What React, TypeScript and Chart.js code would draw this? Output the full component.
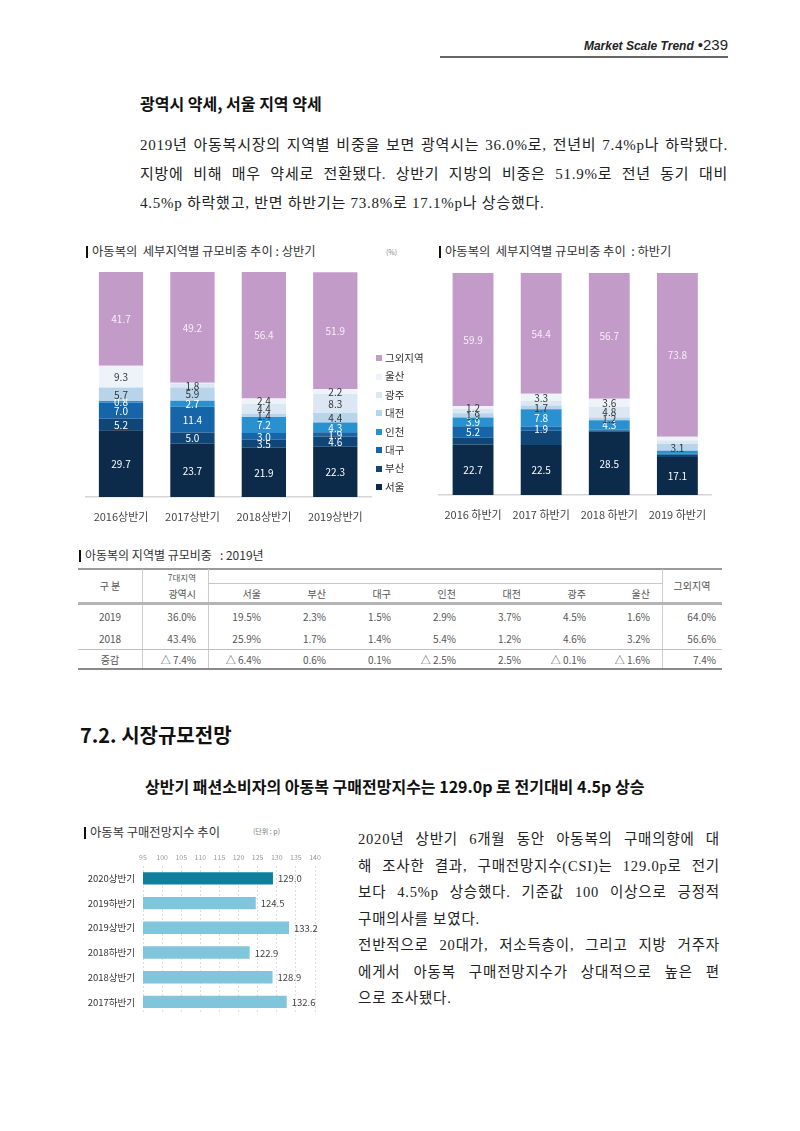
import React, { useEffect, useRef } from "react";
import { Chart, registerables } from "chart.js";

Chart.register(...registerables);

const KR = "'Noto Sans CJK KR', 'Noto Sans', sans-serif";
const SERIF = "'Liberation Serif', 'Noto Sans CJK KR', serif";

// ---------- regional share (stacked) ----------
const REGIONS = ["서울", "부산", "대구", "인천", "대전", "광주", "울산", "그외지역"];
const REGION_COLORS = ["#0c2a49", "#0f4677", "#1565a8", "#2a91d0", "#b8d4ea", "#dbe7f3", "#eef3f9", "#c39bc9"];
const LABEL_COLORS = ["#ffffff", "#ffffff", "#ffffff", "#ffffff", "#333333", "#333333", "#333333", "#f7eef8"];

const H1_PERIODS = ["2016상반기", "2017상반기", "2018상반기", "2019상반기"];
const H1_SEOUL = [29.7, 23.7, 21.9, 22.3];
const H1_BUSAN = [5.2, 5.0, 3.5, 4.6];
const H1_DAEGU = [7.0, 11.4, 3.0, 1.9];
const H1_INCHEON = [0.8, 2.7, 7.2, 4.3];
const H1_DAEJEON = [5.7, 5.9, 1.4, 4.4];
const H1_GWANGJU = [0.6, 1.8, 4.4, 8.3];
const H1_ULSAN = [9.3, 0.3, 2.4, 2.2];
const H1_OTHER = [41.7, 49.2, 56.4, 51.9];
const H1_HIDDEN_LABELS = ["광주-0", "울산-1"];

const H2_PERIODS = ["2016 하반기", "2017 하반기", "2018 하반기", "2019 하반기"];
const H2_SEOUL = [22.7, 22.5, 28.5, 17.1];
const H2_BUSAN = [3.1, 6.4, 0.4, 1.0];
const H2_DAEGU = [5.2, 1.9, 0.5, 0.6];
const H2_INCHEON = [3.9, 7.8, 4.3, 1.2];
const H2_DAEJEON = [1.9, 1.7, 1.2, 3.1];
const H2_GWANGJU = [2.1, 2.0, 4.8, 1.6];
const H2_ULSAN = [1.2, 3.3, 3.6, 1.6];
const H2_OTHER = [59.9, 54.4, 56.7, 73.8];
const H2_HIDDEN_LABELS = ["부산-0", "부산-1", "부산-2", "부산-3", "대구-2", "대구-3", "인천-3", "광주-0", "광주-1", "광주-3", "울산-3"];

// ---------- table ----------
const TABLE_REGIONS = ["서울", "부산", "대구", "인천", "대전", "광주", "울산"];
const ROW_LABELS = ["2019", "2018", "증감"];
const ROW_2019 = ["36.0%", "19.5%", "2.3%", "1.5%", "2.9%", "3.7%", "4.5%", "1.6%", "64.0%"];
const ROW_2018 = ["43.4%", "25.9%", "1.7%", "1.4%", "5.4%", "1.2%", "4.6%", "3.2%", "56.6%"];
const ROW_CHANGE = ["△ 7.4%", "△ 6.4%", "0.6%", "0.1%", "△ 2.5%", "2.5%", "△ 0.1%", "△ 1.6%", "7.4%"];

// ---------- CSI ----------
const CSI_PERIODS = ["2020상반기", "2019하반기", "2019상반기", "2018하반기", "2018상반기", "2017하반기"];
const CSI_VALUES = [129.0, 124.5, 133.2, 122.9, 128.9, 132.6];
const CSI_TICKS_MIN = 95;
const CSI_TICKS_MAX = 140;

const stackLabelPlugin = (hidden: string[]) => ({
  id: "stackLabels",
  afterDatasetsDraw(chart: any) {
    const ctx = chart.ctx;
    ctx.save();
    ctx.font = `10px ${KR}`;
    ctx.textAlign = "center";
    ctx.textBaseline = "middle";
    chart.data.datasets.forEach((ds: any, di: number) => {
      const meta = chart.getDatasetMeta(di);
      meta.data.forEach((bar: any, i: number) => {
        if (hidden.includes(`${REGIONS[di]}-${i}`)) return;
        const p = bar.getProps(["x", "y", "base"], true);
        ctx.fillStyle = LABEL_COLORS[di];
        ctx.fillText(Number(ds.data[i]).toFixed(1), p.x, (p.y + p.base) / 2 + 0.5);
      });
    });
    ctx.restore();
  },
});

const valueLabelPlugin = {
  id: "valueLabels",
  afterDatasetsDraw(chart: any) {
    const ctx = chart.ctx;
    ctx.save();
    ctx.font = `9.5px ${KR}`;
    ctx.textAlign = "left";
    ctx.textBaseline = "middle";
    ctx.fillStyle = "#444";
    const ds = chart.data.datasets[0];
    chart.getDatasetMeta(0).data.forEach((bar: any, i: number) => {
      const p = bar.getProps(["x", "y"], true);
      ctx.fillText(Number(ds.data[i]).toFixed(1), p.x + 5, p.y + 0.5);
    });
    ctx.restore();
  },
};

function makeStacked(
  canvas: HTMLCanvasElement,
  periods: string[],
  series: number[][],
  hidden: string[],
  padding: any,
  barPct: number,
  axisHeight: number
) {
  return new Chart(canvas, {
    type: "bar",
    data: {
      labels: periods,
      datasets: series.map((d, i) => ({
        label: REGIONS[i],
        data: d,
        backgroundColor: REGION_COLORS[i],
        borderWidth: 0,
        barPercentage: barPct,
        categoryPercentage: 1,
      })),
    },
    options: {
      animation: false,
      responsive: false,
      maintainAspectRatio: false,
      layout: { padding },
      plugins: { legend: { display: false }, tooltip: { enabled: false } },
      scales: {
        x: {
          stacked: true,
          grid: { display: false, drawTicks: false },
          border: { display: true, color: "#d6d6d6", width: 1.5 },
          ticks: { padding: 13, color: "#444", font: { size: 11, family: KR } },
          afterFit: (s: any) => {
            s.height = axisHeight;
          },
        },
        y: { stacked: true, display: false, min: 0, max: 100 },
      },
    },
    plugins: [stackLabelPlugin(hidden)],
  } as any);
}

const abs = (left: number, top: number, extra: any = {}) => ({
  position: "absolute" as const,
  left,
  top,
  whiteSpace: "nowrap" as const,
  ...extra,
});

function Bar() {
  return (
    <span
      style={{
        display: "inline-block",
        width: 2,
        height: 12,
        background: "#111",
        marginRight: 4,
        verticalAlign: "middle",
        position: "relative",
        top: -1,
      }}
    />
  );
}

function Line({ cy, left, width, size, text, justify, family, spacing = 0 }: any) {
  return (
    <div
      style={{
        position: "absolute",
        left,
        top: cy - size * 0.75,
        width,
        height: size * 1.5,
        lineHeight: `${size * 1.5}px`,
        fontSize: size,
        fontFamily: family,
        letterSpacing: spacing,
        color: "#222",
        textAlign: justify ? "justify" : "left",
        textAlignLast: justify ? "justify" : "left",
      } as any}
    >
      {text}
    </div>
  );
}

const COLS = [78, 142, 208, 273, 338, 403, 468, 533, 598, 662, 722];

function Cell({ x0, x1, cy, text, align, size = 10, pad = 12 }: any) {
  return (
    <div
      style={{
        position: "absolute",
        left: x0,
        width: x1 - x0,
        top: cy - 8,
        height: 16,
        lineHeight: "16px",
        fontSize: size,
        fontFamily: KR,
        color: "#555",
        textAlign: align,
        boxSizing: "border-box",
        paddingRight: align === "right" ? pad : 0,
        whiteSpace: "nowrap",
      }}
    >
      {text}
    </div>
  );
}

function HLine({ x0, x1, y, h = 1, color = "#bbb" }: any) {
  return <div style={{ position: "absolute", left: x0, top: y, width: x1 - x0, height: h, background: color }} />;
}
function VLine({ x, y0, y1, color = "#ccc" }: any) {
  return <div style={{ position: "absolute", left: x, top: y0, width: 1, height: y1 - y0, background: color }} />;
}

function Table() {
  const rows = [ROW_2019, ROW_2018, ROW_CHANGE];
  const rowY = [617, 639, 660];
  return (
    <>
      <HLine x0={78} x1={722} y={568} h={1.5} color="#9a9a9a" />
      <VLine x={142} y0={569} y1={668} />
      <VLine x={208} y0={569} y1={668} />
      <VLine x={662} y0={569} y1={668} />
      <HLine x0={208} x1={662} y={583} h={1} color="#c8c8c8" />
      <HLine x0={78} x1={722} y={602} h={3} color="#b5b5b5" />
      <HLine x0={78} x1={722} y={649} h={1} color="#c0c0c0" />
      <HLine x0={78} x1={722} y={668} h={1.5} color="#8a8a8a" />
      <Cell x0={78} x1={142} cy={586} text="구 분" align="center" />
      <Cell x0={142} x1={208} cy={577} text="7대지역" align="right" size={8.5} />
      <Cell x0={142} x1={208} cy={594} text="광역시" align="right" />
      {TABLE_REGIONS.map((r, i) => (
        <Cell key={r} x0={COLS[i + 2]} x1={COLS[i + 3]} cy={594} text={r} align="right" />
      ))}
      <Cell x0={662} x1={722} cy={586} text="그외지역" align="center" />
      {rows.map((row, ri) => (
        <React.Fragment key={ri}>
          <Cell x0={78} x1={142} cy={rowY[ri]} text={ROW_LABELS[ri]} align="center" />
          {row.map((v, ci) => (
            <Cell
              key={ci}
              x0={COLS[ci + 1]}
              x1={COLS[ci + 2]}
              cy={rowY[ri]}
              text={v}
              align="right"
              pad={ci < 8 ? 12 : 6}
            />
          ))}
        </React.Fragment>
      ))}
    </>
  );
}

export default function App() {
  const h1Ref = useRef<HTMLCanvasElement>(null);
  const h2Ref = useRef<HTMLCanvasElement>(null);
  const csiRef = useRef<HTMLCanvasElement>(null);

  useEffect(() => {
    const c1 = makeStacked(
      h1Ref.current!,
      H1_PERIODS,
      [H1_SEOUL, H1_BUSAN, H1_DAEGU, H1_INCHEON, H1_DAEJEON, H1_GWANGJU, H1_ULSAN, H1_OTHER],
      H1_HIDDEN_LABELS,
      { left: 5, right: 9, top: 10, bottom: 0 },
      0.62,
      38
    );
    const c2 = makeStacked(
      h2Ref.current!,
      H2_PERIODS,
      [H2_SEOUL, H2_BUSAN, H2_DAEGU, H2_INCHEON, H2_DAEJEON, H2_GWANGJU, H2_ULSAN, H2_OTHER],
      H2_HIDDEN_LABELS,
      { left: 9, right: 8, top: 11, bottom: 0 },
      0.6,
      40
    );
    const c3 = new Chart(csiRef.current!, {
      type: "bar",
      data: {
        labels: CSI_PERIODS,
        datasets: [
          {
            data: CSI_VALUES,
            backgroundColor: CSI_PERIODS.map((_, i) => (i === 0 ? "#0e7f9d" : "#7fc6dc")),
            borderWidth: 0,
            barPercentage: 0.5,
            categoryPercentage: 1,
          },
        ],
      },
      options: {
        indexAxis: "y",
        animation: false,
        responsive: false,
        maintainAspectRatio: false,
        layout: { padding: { left: 0, right: 17, top: 0, bottom: 0 } },
        plugins: { legend: { display: false }, tooltip: { enabled: false } },
        scales: {
          x: {
            position: "top",
            min: CSI_TICKS_MIN,
            max: CSI_TICKS_MAX,
            ticks: { stepSize: 5, color: "#999", font: { size: 7, family: KR }, padding: 4 },
            grid: { color: "#dedede", drawTicks: false },
            border: { display: false, dash: [2, 2] },
            afterFit: (s: any) => {
              s.height = 26;
            },
          },
          y: {
            grid: { display: false, drawTicks: false },
            border: { display: false },
            ticks: { color: "#333", font: { size: 9.5, family: KR }, padding: 8 },
            afterFit: (s: any) => {
              s.width = 61;
            },
          },
        },
      },
      plugins: [valueLabelPlugin],
    } as any);
    return () => {
      c1.destroy();
      c2.destroy();
      c3.destroy();
    };
  }, []);

  const legendItems = [...REGIONS].reverse();
  const legendColors = [...REGION_COLORS].reverse();

  return (
    <div style={{ position: "absolute", left: 0, top: 0, width: 800, height: 1131, background: "#fff", fontFamily: KR, overflow: "hidden" }}>
      {/* header */}
      <div style={abs(0, 33, { width: 728, textAlign: "right", lineHeight: "20px", color: "#222" })}>
        <span style={{ fontFamily: "'Liberation Sans', sans-serif", fontStyle: "italic", fontWeight: 700, fontSize: 12 }}>
          Market Scale Trend
        </span>
        <span style={{ fontFamily: "'Liberation Sans Narrow', 'Liberation Sans', sans-serif", fontSize: 15, marginLeft: 4 }}>•239</span>
      </div>
      <div style={{ position: "absolute", left: 440, top: 56, width: 288, height: 1.5, background: "#666" }} />

      {/* section 1 */}
      <div style={abs(140, 91, { fontSize: 16, fontWeight: 700, lineHeight: "24px", color: "#111" })}>광역시 약세, 서울 지역 약세</div>
      <Line cy={145} left={140} width={588} size={15} spacing={0.75} family={SERIF} justify text="2019년 아동복시장의 지역별 비중을 보면 광역시는 36.0%로, 전년비 7.4%p나 하락됐다." />
      <Line cy={174} left={140} width={588} size={15} spacing={0.75} family={SERIF} justify text="지방에 비해 매우 약세로 전환됐다. 상반기 지방의 비중은 51.9%로 전년 동기 대비" />
      <Line cy={203} left={140} width={588} size={15} spacing={0.75} family={SERIF} text="4.5%p 하락했고, 반면 하반기는 73.8%로 17.1%p나 상승했다." />

      {/* chart titles */}
      <div style={abs(86, 243, { fontSize: 12.3, lineHeight: "16px", color: "#333" })}>
        <Bar />아동복의&nbsp; 세부지역별 규모비중 추이 : 상반기
      </div>
      <div style={abs(386, 246, { fontSize: 7, lineHeight: "12px", color: "#888" })}>(%)</div>
      <div style={abs(439, 243, { fontSize: 12.3, lineHeight: "16px", color: "#333" })}>
        <Bar />아동복의&nbsp; 세부지역별 규모비중 추이&nbsp; : 하반기
      </div>

      <canvas ref={h1Ref} width={300} height={273} style={{ position: "absolute", left: 80, top: 262 }} />
      <canvas ref={h2Ref} width={290} height={273} style={{ position: "absolute", left: 430, top: 262 }} />

      {/* legend */}
      {legendItems.map((name, i) => (
        <div key={name} style={abs(376, 358 + i * 18.4 - 8, { height: 16, lineHeight: "16px", fontSize: 10.5, color: "#333" })}>
          <span style={{ display: "inline-block", width: 6, height: 6, background: legendColors[i], marginRight: 3, verticalAlign: "middle", position: "relative", top: -1 }} />
          {name}
        </div>
      ))}

      {/* table */}
      <div style={abs(79, 547, { fontSize: 12, lineHeight: "16px", color: "#333" })}>
        <Bar />아동복의 지역별 규모비중&nbsp;&nbsp; : 2019년
      </div>
      <Table />

      {/* section 7.2 */}
      <div style={abs(80, 721, { fontSize: 20, fontWeight: 700, lineHeight: "28px", color: "#111" })}>7.2. 시장규모전망</div>
      <div style={abs(145, 774, { fontSize: 16, fontWeight: 700, lineHeight: "24px", color: "#111" })}>
        상반기 패션소비자의 아동복 구매전망지수는 129.0p 로 전기대비 4.5p 상승
      </div>

      <div style={abs(84, 824, { fontSize: 12.3, lineHeight: "16px", color: "#333" })}>
        <Bar />아동복 구매전망지수 추이
      </div>
      <div style={abs(253, 825, { fontSize: 7, lineHeight: "12px", color: "#777" })}>(단위 : p)</div>
      <canvas ref={csiRef} width={250} height={188} style={{ position: "absolute", left: 82, top: 840 }} />

      <Line cy={840} left={358} width={362} size={14.5} spacing={0.8} family={SERIF} justify text="2020년 상반기 6개월 동안 아동복의 구매의향에 대" />
      <Line cy={866.5} left={358} width={362} size={14.5} spacing={0.8} family={SERIF} justify text="해 조사한 결과, 구매전망지수(CSI)는 129.0p로 전기" />
      <Line cy={893} left={358} width={362} size={14.5} spacing={0.8} family={SERIF} justify text="보다 4.5%p 상승했다. 기준값 100 이상으로 긍정적" />
      <Line cy={919.5} left={358} width={362} size={14.5} spacing={0.8} family={SERIF} text="구매의사를 보였다." />
      <Line cy={946} left={358} width={362} size={14.5} spacing={0.8} family={SERIF} justify text="전반적으로 20대가, 저소득층이, 그리고 지방 거주자" />
      <Line cy={972.5} left={358} width={362} size={14.5} spacing={0.8} family={SERIF} justify text="에게서 아동복 구매전망지수가 상대적으로 높은 편" />
      <Line cy={999} left={358} width={362} size={14.5} spacing={0.8} family={SERIF} text="으로 조사됐다." />
    </div>
  );
}
